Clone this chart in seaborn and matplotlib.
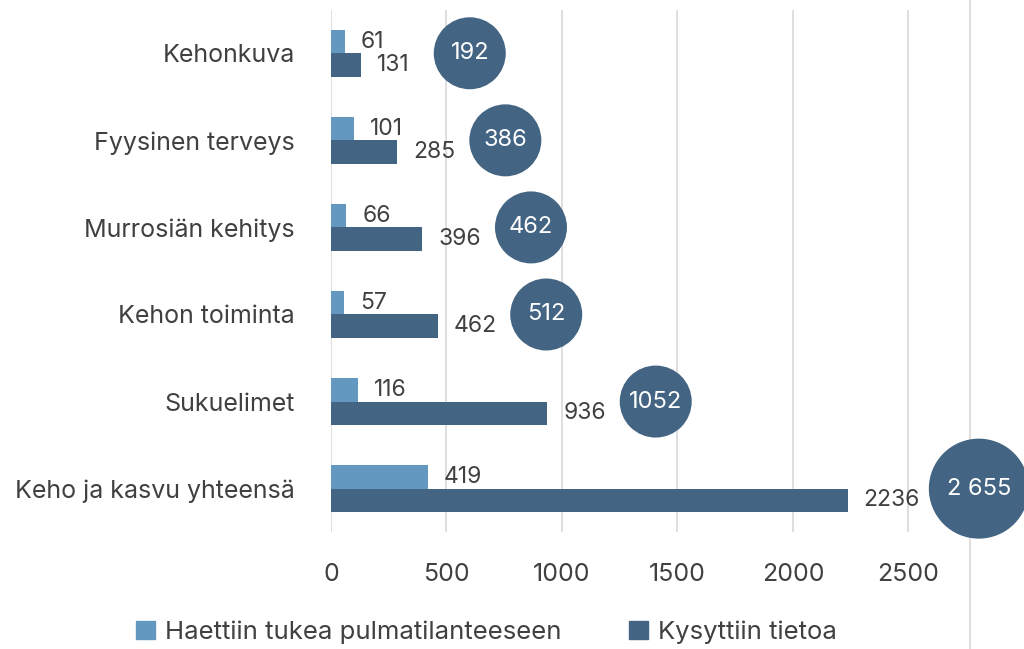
import pandas as pd
import numpy as np
import matplotlib.pyplot as plt
import seaborn as sns
from matplotlib.lines import Line2D

categories = ['Kehonkuva', 'Fyysinen terveys', 'Murrosiän kehitys',
              'Kehon toiminta', 'Sukuelimet', 'Keho ja kasvu yhteensä']
support = [61, 101, 66, 57, 116, 419]
info = [131, 285, 396, 462, 936, 2236]
totals = [192, 386, 462, 512, 1052, 2655]
total_labels = ['192', '386', '462', '512', '1052', '2 655']
series = ['Haettiin tukea pulmatilanteeseen', 'Kysyttiin tietoa']
xticks = [0, 500, 1000, 1500, 2000, 2500]

light = '#6399c0'
dark = '#436583'
txt = '#404040'

sns.set_style('white')
plt.rcParams['font.family'] = ['Inter', 'DejaVu Sans']

df = pd.DataFrame({
    'kategoria': categories * 2,
    'arvo': support + info,
    'sarja': [series[0]] * 6 + [series[1]] * 6,
})

fig = plt.figure(figsize=(10.24, 6.49), dpi=100)
ax = fig.add_axes([0.3232, 0.180, 0.6768, 0.805])

sns.barplot(data=df, y='kategoria', x='arvo', hue='sarja', orient='h',
            palette=[light, dark], saturation=1, width=0.54, linewidth=0,
            ax=ax, legend=False)

for cont in ax.containers:
    ax.bar_label(cont, padding=11.5, fontsize=16.5, color=txt)

ax.set_xlim(0, 3000)
ax.set_ylim(5.5, -0.5)
ax.set_xticks(xticks)
ax.set_xticklabels([str(t) for t in xticks])
ax.grid(axis='x', color='#d9d9d9', linewidth=1.2)
ax.set_axisbelow(True)
for s in ax.spines.values():
    s.set_visible(False)
ax.tick_params(axis='both', length=0, labelsize=18, colors=txt)
ax.tick_params(axis='x', pad=22)
ax.tick_params(axis='y', pad=26)
ax.set_xlabel('')
ax.set_ylabel('')

# total bubbles to the right of the bars (after the value label)
px_per_unit = 1024 * 0.6768 / 3000
radius_px = np.array([36, 36, 36, 36, 36, 50])
digits = np.array([len(str(v)) for v in info])
gap = 200 + 38 * digits
cx = np.array(info) + gap + radius_px / px_per_unit
sizes = (radius_px * 2 * 0.72) ** 2
ypos = np.arange(len(categories))
ax.scatter(cx, ypos, s=sizes, color=dark, zorder=5, clip_on=False, linewidths=0)
for x, y, lab in zip(cx, ypos, total_labels):
    ax.text(x, y, lab, color='white', fontsize=17, ha='center', va='center',
            zorder=6, clip_on=False)

# thin divider line on the right, behind the bubbles
divider = Line2D([0.947, 0.947], [0, 1], transform=fig.transFigure,
                 color='#d9d9d9', linewidth=1.2, zorder=1, clip_on=False)
ax.add_line(divider)

handles = [plt.Rectangle((0, 0), 1, 1, color=c) for c in [light, dark]]
fig.legend(handles, series, loc='center', bbox_to_anchor=(0.475, 0.026),
           ncol=2, frameon=False, fontsize=18.5, labelcolor=txt,
           handlelength=0.75, handleheight=0.75, handletextpad=0.4,
           columnspacing=2.6)

fig.savefig('out.png', dpi=100)
